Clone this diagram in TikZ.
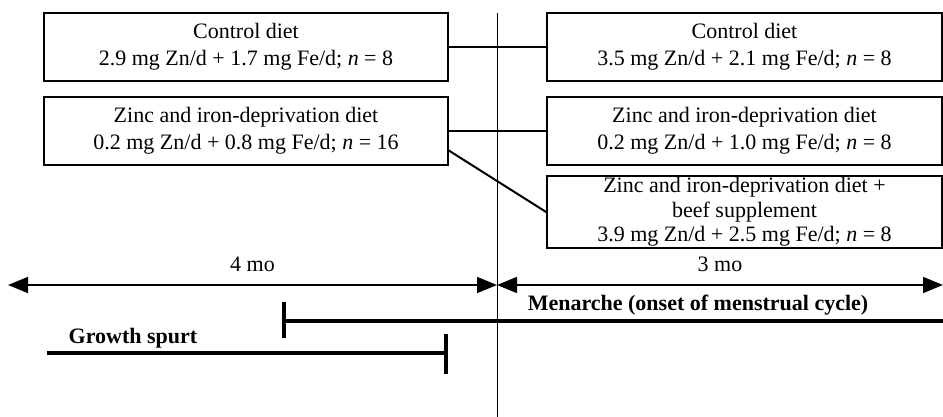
\documentclass[tikz,border=0pt]{standalone}
\usepackage{fontspec}
\setmainfont{Liberation Serif}
\usetikzlibrary{arrows.meta}
\begin{document}
\begin{tikzpicture}[x=0.5pt, y=-0.5pt,
    diet/.style={draw, line width=0.9pt, align=center, inner sep=0pt, font=\fontsize{11}{13.5}\selectfont},
    period/.style={line width=2pt},
    span/.style={line width=0.8pt, {Triangle[length=10pt,width=8pt]}-{Triangle[length=10pt,width=8pt]}}]
                \useasboundingbox (0,0) rectangle (943,417);
                % Diets during the first 4 months
                \node[diet, minimum width=202pt, minimum height=34pt] (lctrl) at (246,47) {Control diet\\2.9 mg Zn/d + 1.7 mg Fe/d; \textit{n} = 8};
                \node[diet, minimum width=202pt, minimum height=34pt] (lzinc) at (246,131) {Zinc and iron-deprivation diet\\0.2 mg Zn/d + 0.8 mg Fe/d; \textit{n} = 16};
                % Diets during the following 3 months
                \node[diet, minimum width=197.5pt, minimum height=34pt] (rctrl) at (744.5,47) {Control diet\\3.5 mg Zn/d + 2.1 mg Fe/d; \textit{n} = 8};
                \node[diet, minimum width=197.5pt, minimum height=34pt] (rzinc) at (744.5,131) {Zinc and iron-deprivation diet\\0.2 mg Zn/d + 1.0 mg Fe/d; \textit{n} = 8};
                \node[diet, minimum width=197.5pt, minimum height=36pt, font=\fontsize{11}{12.2}\selectfont] (rbeef) at (744.5,212) {Zinc and iron-deprivation diet +\\beef supplement\\3.9 mg Zn/d + 2.5 mg Fe/d; \textit{n} = 8};
                % Links between the two periods
                \coordinate (lzlow) at (448,150);
                \draw[line width=1pt] (lctrl.east) -- (rctrl.west);
                \draw[line width=1pt] (lzinc.east) -- (rzinc.west);
                \draw[line width=1pt] (lzlow) -- (rbeef.west);
                % Time axis
                \coordinate (Ttop) at (497,13);
                \coordinate (Tbot) at (497,417);
                \coordinate (Tleft) at (8,285);
                \coordinate (Tmid) at (497,285);
                \coordinate (Tright) at (943,285);
                \draw[line width=0.5pt] (Ttop) -- (Tbot);
                \draw[span] (Tleft) -- node[above=3pt, font=\fontsize{11}{13}\selectfont] (four) {4 mo} (Tmid);
                \draw[span] (Tmid) -- node[above=3pt, font=\fontsize{11}{13}\selectfont] (three) {3 mo} (Tright);
                % Menarche
                \coordinate (Mstart) at (284,321);
                \coordinate (Mend) at (943,321);
                \draw[period] (284,302) -- (284,338);
                \draw[period] (Mstart) -- (Mend);
                \node[font=\bfseries\fontsize{11}{13}\selectfont] (menarche) at (698,305) {Menarche (onset of menstrual cycle)};
                % Growth spurt
                \coordinate (Gstart) at (47,353);
                \coordinate (Gend) at (446,353);
                \draw[period] (Gstart) -- (Gend);
                \draw[period] (446,334) -- (446,374);
                \node[font=\bfseries\fontsize{11}{13}\selectfont] (growth) at (133,338) {Growth spurt};
            \end{tikzpicture}
\end{document}
